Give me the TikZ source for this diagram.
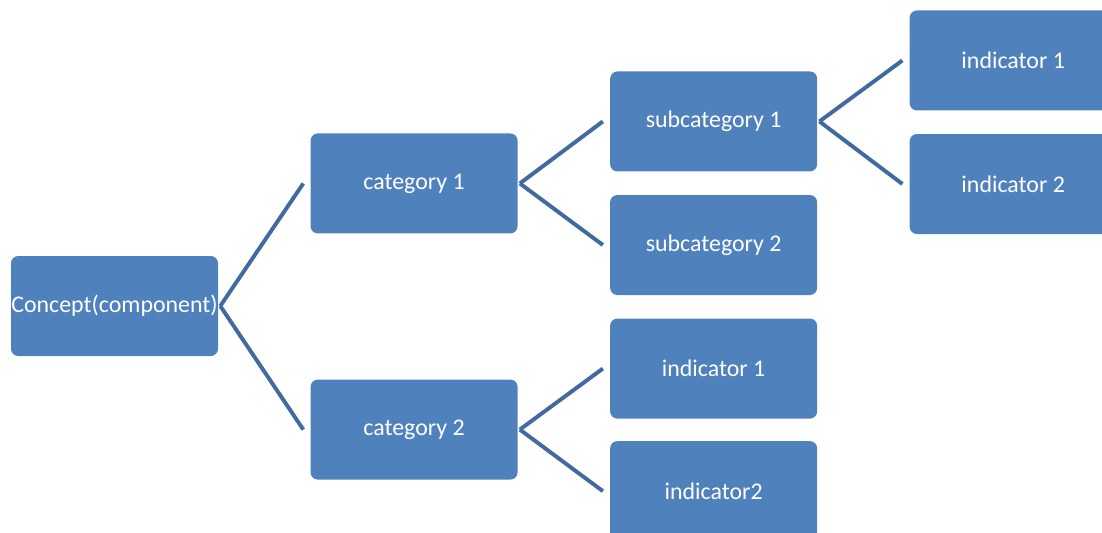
\documentclass[tikz,border=0pt]{standalone}
\usepackage{fontspec}
\setmainfont{Carlito}
\usetikzlibrary{positioning}
\definecolor{BoxBlue}{RGB}{79,129,189}
\definecolor{LinkBlue}{RGB}{65,106,160}
\tikzset{
  treenode/.style={fill=BoxBlue,text=white,rounded corners=1.8mm,minimum height=2.5cm,minimum width=5.175cm,inner sep=0pt,align=center,font=\fontsize{17}{20}\selectfont},
  branch/.style={line width=2.8pt,draw=LinkBlue}
}

\begin{document}
\begin{tikzpicture}[node distance=0.575cm and 2.3cm]
\clip (0,0) rectangle (27.55,-13.3);
\node[treenode] (concept) at (2.8625,-7.65) {Concept(component)};
\node[treenode, above right=0.55cm and 2.3cm of concept] (cat1) {category 1};
\node[treenode, below right=0.575cm and 2.3cm of concept] (cat2) {category 2};
\node[treenode, right=2.3cm of cat1, yshift=1.55cm] (sub1) {subcategory 1};
\node[treenode, below=0.575cm of sub1] (sub2) {subcategory 2};
\node[treenode, right=2.3cm of sub1, yshift=1.525cm] (ind1a) {indicator 1};
\node[treenode, below=0.575cm of ind1a] (ind2a) {indicator 2};
\node[treenode, right=2.3cm of cat2, yshift=1.525cm] (ind1b) {indicator 1};
\node[treenode, below=0.55cm of ind1b] (ind2b) {indicator2};
\draw[branch] ([xshift=0.05cm]concept.east) -- ([xshift=-0.175cm]cat1.west);
\draw[branch] ([xshift=0.05cm]concept.east) -- ([xshift=-0.175cm]cat2.west);
\draw[branch] ([xshift=0.05cm]cat1.east) -- ([xshift=-0.175cm]sub1.west);
\draw[branch] ([xshift=0.05cm]cat1.east) -- ([xshift=-0.175cm]sub2.west);
\draw[branch] ([xshift=0.05cm]sub1.east) -- ([xshift=-0.175cm]ind1a.west);
\draw[branch] ([xshift=0.05cm]sub1.east) -- ([xshift=-0.175cm]ind2a.west);
\draw[branch] ([xshift=0.05cm]cat2.east) -- ([xshift=-0.175cm]ind1b.west);
\draw[branch] ([xshift=0.05cm]cat2.east) -- ([xshift=-0.175cm]ind2b.west);
\end{tikzpicture}
\end{document}
